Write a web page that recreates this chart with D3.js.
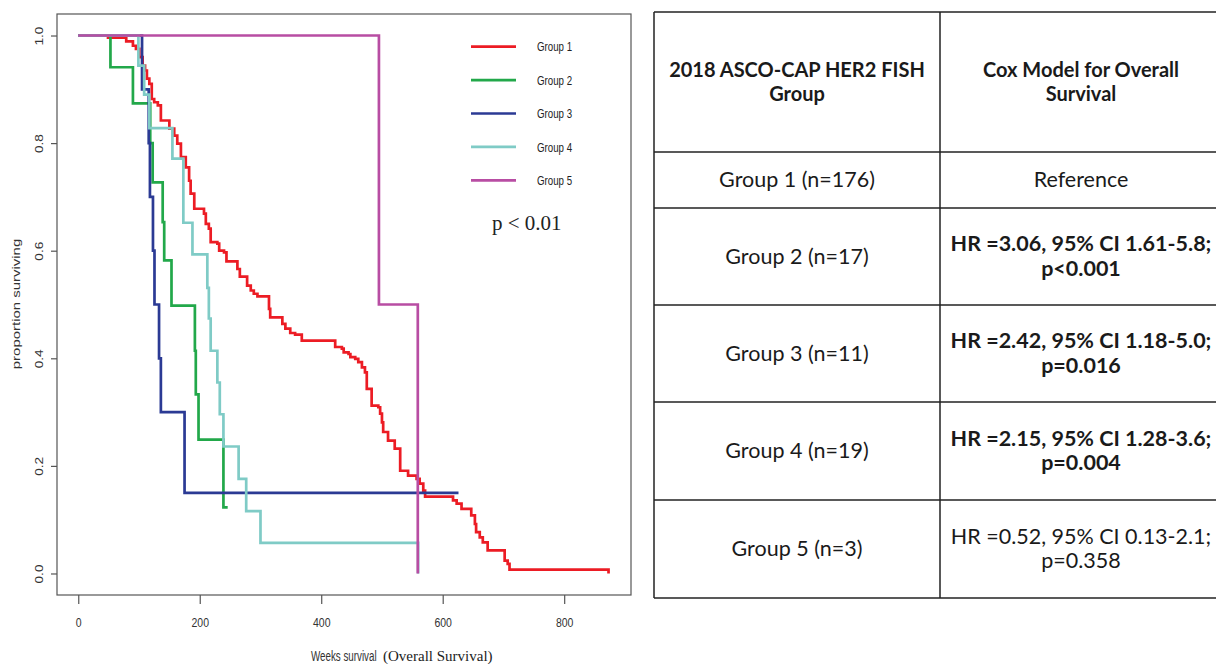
<!DOCTYPE html>
<html>
<head>
<meta charset="utf-8">
<script src="https://cdn.jsdelivr.net/npm/d3@7"></script>
<style>
  body { margin: 0; background: #fff; }
  svg { display: block; }
</style>
</head>
<body>
<svg id="chart" width="1216" height="664"></svg>
<script>
// Kaplan-Meier step points (weeks, proportion surviving)
var g1Time = [49, 79, 90, 95, 100.5, 106, 110, 113, 117, 121, 125, 131, 136, 150, 158, 163, 169, 177, 182.5, 185, 191, 207, 210, 215, 218, 229, 232, 240, 244, 262, 266, 278, 284, 289, 295, 314, 316, 336, 341, 349, 357, 368, 423, 434, 437, 445, 448, 456, 461, 467, 472, 475, 483, 494, 497, 500, 502, 510, 521, 530, 543, 557, 562, 568, 571, 617, 623, 631, 647, 653, 655, 661, 666, 674, 702, 707, 710, 873];
var g1Surv = [0.996, 0.989, 0.981, 0.975, 0.960, 0.944, 0.935, 0.920, 0.910, 0.882, 0.876, 0.870, 0.842, 0.827, 0.814, 0.799, 0.774, 0.755, 0.730, 0.706, 0.678, 0.669, 0.650, 0.641, 0.616, 0.613, 0.600, 0.597, 0.580, 0.566, 0.552, 0.535, 0.526, 0.520, 0.515, 0.492, 0.476, 0.464, 0.455, 0.447, 0.444, 0.433, 0.421, 0.418, 0.411, 0.408, 0.402, 0.399, 0.393, 0.383, 0.374, 0.343, 0.312, 0.309, 0.297, 0.281, 0.263, 0.247, 0.232, 0.191, 0.182, 0.176, 0.167, 0.154, 0.143, 0.136, 0.130, 0.120, 0.108, 0.092, 0.077, 0.067, 0.058, 0.043, 0.024, 0.018, 0.007, 0];

var g2Time = [53, 90, 118.5, 122.5, 139, 141.5, 153.5, 192, 193.5, 198, 239, 246];
var g2Surv = [0.941, 0.874, 0.80, 0.727, 0.653, 0.582, 0.498, 0.414, 0.333, 0.249, 0.123, 0.123];

var g3Time = [105, 116, 118, 123, 125.5, 133, 136, 175, 626];
var g3Surv = [0.9, 0.8, 0.7, 0.6, 0.5, 0.4, 0.3, 0.15, 0.15];

var g4Time = [99, 108.5, 117, 155, 173, 188, 212.5, 215, 218, 229, 233, 239, 264, 276.5, 300, 559.5];
var g4Surv = [0.944, 0.890, 0.828, 0.771, 0.652, 0.593, 0.531, 0.474, 0.414, 0.355, 0.296, 0.236, 0.176, 0.116, 0.057, 0];

var g5Time = [495, 559];
var g5Surv = [0.5, 0];

var groupNames = ["Group 1", "Group 2", "Group 3", "Group 4", "Group 5"];
var groupColors = ["#ec1c24", "#22a84a", "#2b3a94", "#7fcbc6", "#b84da3"];

var xTicks = [0, 200, 400, 600, 800];
var yTicks = [0, 0.2, 0.4, 0.6, 0.8, 1.0];

// table contents
var tableHead = [["2018 ASCO-CAP HER2 FISH", "Group"], ["Cox Model for Overall", "Survival"]];
var tableGroups = ["Group 1 (n=176)", "Group 2 (n=17)", "Group 3 (n=11)", "Group 4 (n=19)", "Group 5 (n=3)"];
var tableHR = ["Reference", "HR =3.06, 95% CI 1.61-5.8;", "HR =2.42, 95% CI 1.18-5.0;", "HR =2.15, 95% CI 1.28-3.6;", "HR =0.52, 95% CI 0.13-2.1;"];
var tableP = ["", "p<0.001", "p=0.016", "p=0.004", "p=0.358"];
var tableBold = [false, true, true, true, false];

var svg = d3.select("#chart");
var sansFont = "'Liberation Sans', Arial, sans-serif";
var serifFont = "'Liberation Serif', 'Times New Roman', serif";
var stretch = 1.3;   // figure text is squeezed horizontally

// scales (R style 4% padding)
var x = d3.scaleLinear().domain([-35, 910]).range([57, 631]);
var y = d3.scaleLinear().domain([-0.04, 1.04]).range([595, 14]);

// plot box
svg.append("rect")
   .attr("x", 57).attr("y", 14)
   .attr("width", 631 - 57).attr("height", 595 - 14)
   .attr("fill", "none").attr("stroke", "#555").attr("stroke-width", 1.2);

// x axis
var xAxis = svg.append("g")
   .attr("transform", "translate(0,595)")
   .call(d3.axisBottom(x).tickValues(xTicks).tickSize(9).tickFormat(d3.format("d")));
xAxis.select(".domain").remove();
xAxis.selectAll("line").attr("stroke", "#555").attr("stroke-width", 1.2);
xAxis.selectAll("text")
   .attr("y", null).attr("dy", null)
   .attr("transform", "translate(0,32) scale(1," + stretch + ")")
   .attr("fill", "#333")
   .style("font-family", sansFont).style("font-size", "10.5px");

// y axis
var yAxis = svg.append("g")
   .attr("transform", "translate(57,0)")
   .call(d3.axisLeft(y).tickValues(yTicks).tickSize(6).tickFormat(d3.format(".1f")));
yAxis.select(".domain").remove();
yAxis.selectAll("line").attr("stroke", "#555").attr("stroke-width", 1.2);
yAxis.selectAll("text")
   .attr("x", null).attr("dy", null)
   .attr("text-anchor", "middle")
   .attr("transform", "translate(-14,0) rotate(-90) scale(" + stretch + ",1)")
   .attr("fill", "#333")
   .style("font-family", sansFont).style("font-size", "10.5px");

// axis titles
svg.append("text")
   .attr("text-anchor", "middle")
   .attr("transform", "translate(20,304) rotate(-90) scale(" + stretch + ",1)")
   .attr("fill", "#333")
   .style("font-family", sansFont).style("font-size", "11.5px")
   .text("proportion surviving");

svg.append("text")
   .attr("transform", "translate(311,661) scale(1,1.4)")
   .attr("fill", "#333")
   .style("font-family", sansFont).style("font-size", "9.8px")
   .text("Weeks survival");
svg.append("text")
   .attr("x", 383).attr("y", 661)
   .attr("fill", "#222")
   .style("font-family", serifFont).style("font-size", "15px")
   .text("(Overall Survival)");

// survival curves
var groups = [
  {time: g1Time, surv: g1Surv},
  {time: g2Time, surv: g2Surv},
  {time: g3Time, surv: g3Surv},
  {time: g4Time, surv: g4Surv},
  {time: g5Time, surv: g5Surv}
];

var line = d3.line()
   .x(function(d){ return x(d[0]); })
   .y(function(d){ return y(d[1]); })
   .curve(d3.curveStepAfter);

groups.forEach(function(g, i){
  var pts = [[0, 1]];
  for (var k = 0; k < g.time.length; k++) {
    pts.push([g.time[k], g.surv[k]]);
  }
  svg.append("path")
     .attr("d", line(pts))
     .attr("fill", "none")
     .attr("stroke", groupColors[i])
     .attr("stroke-width", 2.7);
});

// legend
var legend = svg.selectAll(".leg")
   .data(groupNames)
   .enter()
   .append("g")
   .attr("class", "leg")
   .attr("transform", function(d, i){ return "translate(471," + (46.7 + i * 33.4) + ")"; });
legend.append("line")
   .attr("x1", 0).attr("x2", 45)
   .attr("stroke", function(d, i){ return groupColors[i]; })
   .attr("stroke-width", 2.7);
legend.append("text")
   .attr("transform", "translate(66,4.7) scale(1,1.35)")
   .attr("fill", "#222")
   .style("font-family", sansFont).style("font-size", "9.7px")
   .text(function(d){ return d; });

// p value
svg.append("text")
   .attr("x", 492).attr("y", 230)
   .attr("fill", "#222")
   .style("font-family", serifFont).style("font-size", "21px")
   .text("p < 0.01");

// table on the right
var tLeft = 654, tMid = 940, tRight = 1228;
var rowLines = [12, 152, 208, 305, 402, 500, 598];
var tbl = svg.append("g");
rowLines.forEach(function(yy){
  tbl.append("line")
     .attr("x1", tLeft).attr("x2", tRight)
     .attr("y1", yy).attr("y2", yy)
     .attr("stroke", "#222").attr("stroke-width", 1.5);
});
[tLeft, tMid, tRight].forEach(function(xx){
  tbl.append("line")
     .attr("x1", xx).attr("x2", xx)
     .attr("y1", rowLines[0]).attr("y2", rowLines[rowLines.length - 1])
     .attr("stroke", "#222").attr("stroke-width", 1.5);
});

var tableFont = "Lato, 'Open Sans', sans-serif";
var col1 = (tLeft + tMid) / 2, col2 = 1081;
function cellText(cx, cy, lines, bold, size){
  var n = lines.length;
  lines.forEach(function(s, k){
    tbl.append("text")
       .attr("x", cx)
       .attr("y", cy + 7 + (k - (n - 1) / 2) * 24.5)
       .attr("text-anchor", "middle")
       .attr("fill", "#1a1a1a")
       .style("font-family", tableFont)
       .style("font-size", size + "px")
       .style("font-weight", bold ? "bold" : "normal")
       .text(s);
  });
}
var headMid = (rowLines[0] + rowLines[1]) / 2;
cellText(col1, headMid, tableHead[0], true, 20);
cellText(col2, headMid, tableHead[1], true, 20);
tableGroups.forEach(function(g, i){
  var cy = (rowLines[i + 1] + rowLines[i + 2]) / 2;
  cellText(col1, cy, [g], false, 21.5);
  var lines = tableP[i] ? [tableHR[i], tableP[i]] : [tableHR[i]];
  cellText(col2, cy, lines, tableBold[i], 21.5);
});
</script>
</body>
</html>
